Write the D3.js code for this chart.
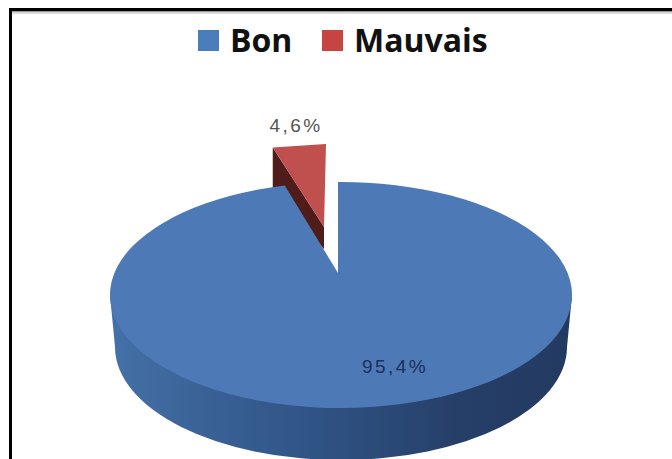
<!DOCTYPE html>
<html><head><meta charset="utf-8">
<script src="https://cdn.jsdelivr.net/npm/d3@7/dist/d3.min.js"></script>
<style>html,body{margin:0;padding:0;background:#fff}svg{display:block}</style>
</head><body><svg id="chart" width="672" height="459"></svg>
<script>
// Satisfaction split
const categories = ["Bon", "Mauvais"];
const values = [95.4, 4.6];
const valueLabels = ["95,4%", "4,6%"];
const topColors = ["#4d7ab7", "#c0504d"];
const legendColors = ["#4a7ebb", "#c64543"];

const W = 672, H = 459;
const svg = d3.select("#chart");
const defs = svg.append("defs");

// Disc geometry: tilted ellipse, a lower copy for the rim, and the pie apex
const cx = 341, cy = 295, rx = 231, ry = 113;
const rimCx = 341, rimCy = 347, rimRx = 226, rimRy = 113;
const apex = {x: 338, y: 273};

const pie = d3.pie().sort(null).startAngle(0).endAngle(2 * Math.PI)
  .value(d => d);
const arcs = pie(values);

// Slice boundaries leave the off-centre apex and end on the ellipse
function onRim(a) {
  const dx = rx * Math.sin(a), dy = -ry * Math.cos(a);
  const ax = apex.x - cx, ay = apex.y - cy;
  const A = (dx / rx) ** 2 + (dy / ry) ** 2;
  const B = 2 * (ax * dx / rx ** 2 + ay * dy / ry ** 2);
  const C = (ax / rx) ** 2 + (ay / ry) ** 2 - 1;
  const t = (-B + Math.sqrt(B * B - 4 * A * C)) / (2 * A);
  return {x: apex.x + t * dx, y: apex.y + t * dy};
}

const rimGrad = defs.append("linearGradient").attr("id", "rim")
  .attr("gradientUnits", "userSpaceOnUse")
  .attr("x1", cx - rx).attr("x2", cx + rx).attr("y1", 0).attr("y2", 0);
[[0, "#4571a8"], [0.2, "#3a6297"], [0.5, "#2d5080"], [0.75, "#263f69"], [1, "#233a60"]]
  .forEach(([o, c]) => rimGrad.append("stop").attr("offset", o).attr("stop-color", c));

// Rim of the disc, below the top surface
svg.append("path")
  .attr("fill", "url(#rim)")
  .attr("d", `M${cx - rx},${cy}L${rimCx - rimRx},${rimCy}` +
    `A${rimRx},${rimRy} 0 0 0 ${rimCx + rimRx},${rimCy}L${cx + rx},${cy}Z`);

// Detached slice: dark inner wall, then its top face
const small = arcs[1];
const liftEdge = {x: -12, y: -38}, liftApex = {x: -14, y: -46};
const smallA = onRim(small.startAngle), smallB = onRim(small.endAngle);
const farL = {x: smallA.x + liftEdge.x, y: smallA.y + liftEdge.y};
const farR = {x: smallB.x + liftEdge.x, y: smallB.y + liftEdge.y};
const tip = {x: apex.x + liftApex.x, y: apex.y + liftApex.y};
const poly = d3.line().x(d => d.x).y(d => d.y).curve(d3.curveLinearClosed);

svg.append("path").attr("fill", "#4f1c1a")
  .attr("d", poly([farL, {x: farL.x, y: farL.y + 44}, {x: tip.x, y: tip.y + 22}, tip]));
svg.append("path").attr("fill", topColors[1])
  .attr("d", poly([farL, farR, tip]));

// Top surface of the large slice
const big = arcs[0];
const bigA = onRim(big.startAngle), bigB = onRim(big.endAngle);
svg.append("path").attr("fill", topColors[0])
  .attr("d", `M${apex.x},${apex.y}L${bigA.x},${bigA.y}` +
    `A${rx},${ry} 0 1 1 ${bigB.x},${bigB.y}Z`);

// Frame: left and top only, with a soft line under the top edge
svg.append("rect").attr("x", 12).attr("y", 11).attr("width", W - 12).attr("height", 1.5)
  .attr("fill", "#999");
svg.append("rect").attr("x", 12).attr("y", 12.5).attr("width", W - 12).attr("height", 1.5)
  .attr("fill", "#ddd");
svg.append("path").attr("fill", "none").attr("stroke", "#000").attr("stroke-width", 3)
  .attr("d", `M10.5,${H}V9.5H${W}`);

// Value labels
const labelPos = [[395, 368], [296, 127]];
svg.selectAll("text.value").data(valueLabels).join("text")
  .attr("class", "value")
  .attr("x", (d, i) => labelPos[i][0]).attr("y", (d, i) => labelPos[i][1])
  .attr("text-anchor", "middle").attr("dominant-baseline", "middle")
  .attr("font-family", "'Liberation Sans','DejaVu Sans',sans-serif").attr("font-size", 19)
  .attr("letter-spacing", 2.4)
  .attr("fill", (d, i) => i === 0 ? "#1c2f5c" : "#555")
  .text(d => d);

// Legend
const legendX = d3.scaleOrdinal().domain(categories).range([198, 322]);
const legend = svg.selectAll("g.key").data(categories).join("g")
  .attr("class", "key").attr("transform", d => `translate(${legendX(d)},30)`);
legend.append("rect").attr("width", 21).attr("height", 21)
  .attr("fill", (d, i) => legendColors[i]);
legend.append("text").attr("x", 32).attr("y", 22)
  .attr("font-family", "'Open Sans',sans-serif").attr("font-weight", 700)
  .attr("font-size", 32).attr("fill", "#111").text(d => d);
</script></body></html>
